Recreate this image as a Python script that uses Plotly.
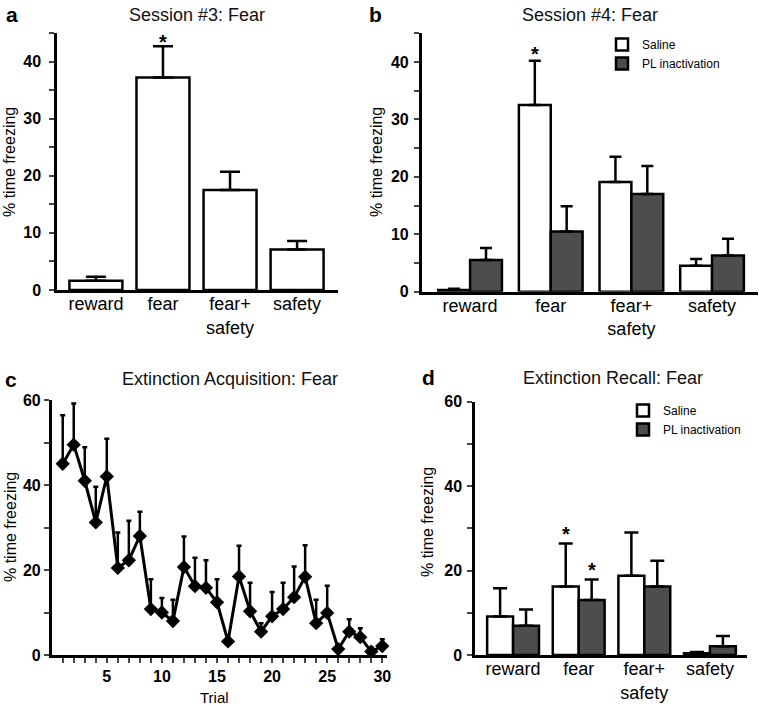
import plotly.graph_objects as go

# ---------------- data ----------------
categories = ["reward", "fear", "fear+<br>safety", "safety"]

s3_fear = [1.6, 37.2, 17.5, 7.1]
s3_fear_err = [0.7, 5.5, 3.2, 1.5]

s4_saline = [0.3, 32.5, 19.1, 4.5]
s4_saline_err = [0.2, 7.7, 4.4, 1.2]
s4_pl = [5.5, 10.5, 17.0, 6.3]
s4_pl_err = [2.1, 4.4, 4.9, 2.9]

trials = list(range(1, 31))
ext_acq = [45.0, 49.5, 41.0, 31.2, 42.0, 20.5, 22.3, 28.0, 10.8, 10.0,
           8.0, 20.7, 16.2, 15.8, 12.4, 3.2, 18.5, 10.3, 5.5, 9.1,
           10.8, 13.6, 18.4, 7.5, 9.9, 1.4, 5.5, 4.2, 0.8, 2.1]
ext_acq_err = [11.4, 9.7, 7.9, 8.4, 8.9, 8.3, 9.3, 5.7, 7.0, 3.4,
               5.0, 7.2, 6.7, 6.5, 5.4, 0.5, 7.2, 6.7, 2.0, 5.7,
               6.2, 7.2, 7.4, 5.5, 6.4, 0.5, 2.9, 2.1, 0.9, 1.6]

rec_saline = [9.1, 16.2, 18.8, 0.4]
rec_saline_err = [6.7, 10.2, 10.2, 0.3]
rec_pl = [6.9, 13.0, 16.2, 2.1]
rec_pl_err = [3.9, 4.9, 6.1, 2.4]

bar_ticks_45 = [0, 5, 10, 15, 20, 25, 30, 35, 40, 45]
bar_ticklabels_45 = ["0", "", "10", "", "20", "", "30", "", "40", ""]
ticks_60 = [0, 10, 20, 30, 40, 50, 60]
ticklabels_60 = ["0", "", "20", "", "40", "", "60"]
trial_ticklabels = [str(t) if t % 5 == 0 else "" for t in trials]

series_names = ["Saline", "PL inactivation"]

# ---------------- style ----------------
W, H = 759, 706
FONT = "Arial, Liberation Sans, Helvetica, sans-serif"
DARK = "#4d4d4d"
LW = 2.5
BARGAP = 0.21


def px_x(p):
    return p / W


def px_y(p):
    return 1 - p / H


fig = go.Figure()


def err(arr, w):
    return dict(type="data", array=arr, arrayminus=[0] * len(arr), symmetric=False,
                color="black", thickness=LW, width=w)


# panel a
fig.add_trace(go.Bar(x=categories, y=s3_fear, error_y=err(s3_fear_err, 10),
                     marker=dict(color="white", line=dict(color="black", width=LW)),
                     showlegend=False, xaxis="x", yaxis="y"))

# panel b
fig.add_trace(go.Bar(x=categories, y=s4_saline, name=series_names[0], error_y=err(s4_saline_err, 6),
                     marker=dict(color="white", line=dict(color="black", width=LW)),
                     xaxis="x2", yaxis="y2", legend="legend", offsetgroup="s"))
fig.add_trace(go.Bar(x=categories, y=s4_pl, name=series_names[1], error_y=err(s4_pl_err, 6),
                     marker=dict(color=DARK, line=dict(color="black", width=LW)),
                     xaxis="x2", yaxis="y2", legend="legend", offsetgroup="p"))

# panel c
fig.add_trace(go.Scatter(x=trials, y=ext_acq, mode="lines+markers",
                         line=dict(color="black", width=3),
                         marker=dict(symbol="diamond", size=11, color="black"),
                         error_y=err(ext_acq_err, 2.5),
                         showlegend=False, xaxis="x3", yaxis="y3", cliponaxis=False))

# panel d
fig.add_trace(go.Bar(x=categories, y=rec_saline, name=series_names[0], error_y=err(rec_saline_err, 7),
                     marker=dict(color="white", line=dict(color="black", width=LW)),
                     xaxis="x4", yaxis="y4", legend="legend2", offsetgroup="s"))
fig.add_trace(go.Bar(x=categories, y=rec_pl, name=series_names[1], error_y=err(rec_pl_err, 7),
                     marker=dict(color=DARK, line=dict(color="black", width=LW)),
                     xaxis="x4", yaxis="y4", legend="legend2", offsetgroup="p"))

axis_common = dict(showline=True, linecolor="black", linewidth=LW, showgrid=False,
                   zeroline=False, mirror=False, automargin=False)
num_font = dict(family=FONT, size=16, color="black", weight="bold")
cat_font = dict(family=FONT, size=18, color="black")

# domains (pixels measured from reference)
dom = {
    "a": ([57, 338], [33, 290]),
    "b": ([421.7, 758], [33.3, 291.7]),
    "c": ([51.7, 386.7], [400, 655]),
    "d": ([475, 746.7], [401.7, 655]),
}


def xd(k):
    return [px_x(dom[k][0][0]), px_x(dom[k][0][1])]


def yd(k):
    return [px_y(dom[k][1][1]), px_y(dom[k][1][0])]


cat_axis = dict(ticks="", ticklen=0, tickfont=cat_font, ticklabelstandoff=-4, **axis_common)

fig.update_layout(
    width=W, height=H, margin=dict(l=0, r=0, t=0, b=0, autoexpand=False),
    paper_bgcolor="white", plot_bgcolor="white",
    barmode="group", bargap=BARGAP, bargroupgap=0,
    font=dict(family=FONT, color="black"),
    xaxis=dict(domain=xd("a"), anchor="y", range=[-0.58, 3.61], **cat_axis),
    yaxis=dict(domain=yd("a"), anchor="x", range=[0, 45], tickvals=bar_ticks_45,
               ticktext=bar_ticklabels_45, ticks="outside", ticklen=5, tickwidth=2,
               ticklabelstandoff=5, tickfont=num_font, **axis_common),
    xaxis2=dict(domain=xd("b"), anchor="y2", range=[-0.6, 3.57], **cat_axis),
    yaxis2=dict(domain=yd("b"), anchor="x2", range=[0, 45], tickvals=bar_ticks_45,
                ticktext=bar_ticklabels_45, ticks="outside", ticklen=5, tickwidth=2,
                ticklabelstandoff=2, tickfont=num_font, **axis_common),
    xaxis3=dict(domain=xd("c"), anchor="y3", range=[0, 30.4], tickvals=trials,
                ticktext=trial_ticklabels, ticks="outside", ticklen=5, tickwidth=2,
                tickfont=num_font, **axis_common),
    yaxis3=dict(domain=yd("c"), anchor="x3", range=[0, 60], tickvals=ticks_60,
                ticktext=ticklabels_60, ticks="outside", ticklen=5, tickwidth=2,
                tickfont=num_font, **axis_common),
    xaxis4=dict(domain=xd("d"), anchor="y4", range=[-0.58, 3.56], **cat_axis),
    yaxis4=dict(domain=yd("d"), anchor="x4", range=[0, 60], tickvals=ticks_60,
                ticktext=ticklabels_60, ticks="outside", ticklen=5, tickwidth=2,
                ticklabelstandoff=2, tickfont=num_font, **axis_common),
    legend=dict(x=px_x(602), y=px_y(30), xanchor="left", yanchor="top",
                font=dict(family=FONT, size=12, color="black"), bgcolor="rgba(0,0,0,0)",
                itemwidth=30, tracegroupgap=0),
    legend2=dict(x=px_x(623), y=px_y(396), xanchor="left", yanchor="top",
                 font=dict(family=FONT, size=12, color="black"), bgcolor="rgba(0,0,0,0)",
                 itemwidth=30, tracegroupgap=0),
)

ann = []
# panel letters
for letter, x, y in [("a", 4, 14), ("b", 367, 14), ("c", 3, 379), ("d", 420, 377)]:
    ann.append(dict(text=letter, x=px_x(x), y=px_y(y), xref="paper", yref="paper",
                    xanchor="left", yanchor="middle", showarrow=False,
                    font=dict(family=FONT, size=21, color="black", weight="bold")))
# titles
for t, x, y in [("Session #3: Fear", 197, 15), ("Session #4: Fear", 590, 15),
                ("Extinction Acquisition: Fear", 230, 379), ("Extinction Recall: Fear", 613, 378)]:
    ann.append(dict(text=t, x=px_x(x), y=px_y(y), xref="paper", yref="paper",
                    xanchor="center", yanchor="middle", showarrow=False,
                    font=dict(family=FONT, size=18, color="#111")))
# y titles
for x, y in [(10, 162), (377, 162), (10, 527), (427, 522)]:
    ann.append(dict(text="% time freezing", x=px_x(x), y=px_y(y), xref="paper", yref="paper",
                    xanchor="center", yanchor="middle", showarrow=False, textangle=-90,
                    font=dict(family=FONT, size=16, color="black")))
# x title panel c
ann.append(dict(text="Trial", x=px_x(214), y=px_y(697), xref="paper", yref="paper",
                xanchor="center", yanchor="middle", showarrow=False,
                font=dict(family=FONT, size=15, color="black")))

# significance stars
half = (1 - BARGAP) / 4
star_font = dict(family=FONT, size=20, color="black", weight="bold")
ann.append(dict(text="*", x=1, y=s3_fear[1] + s3_fear_err[1], xref="x", yref="y",
                yshift=4, showarrow=False, font=star_font))
ann.append(dict(text="*", x=1 - half, y=s4_saline[1] + s4_saline_err[1], xref="x2", yref="y2",
                yshift=7, showarrow=False, font=star_font))
ann.append(dict(text="*", x=1 - half, y=rec_saline[1] + rec_saline_err[1], xref="x4", yref="y4",
                yshift=10, showarrow=False, font=star_font))
ann.append(dict(text="*", x=1 + half, y=rec_pl[1] + rec_pl_err[1], xref="x4", yref="y4",
                yshift=9, showarrow=False, font=star_font))

fig.update_layout(annotations=ann)

# remove the browser's default 8px body margin so the figure sits at the page origin
fig.write_html("out.html", config={"displayModeBar": False},
               post_script="document.body.style.margin='0';")
